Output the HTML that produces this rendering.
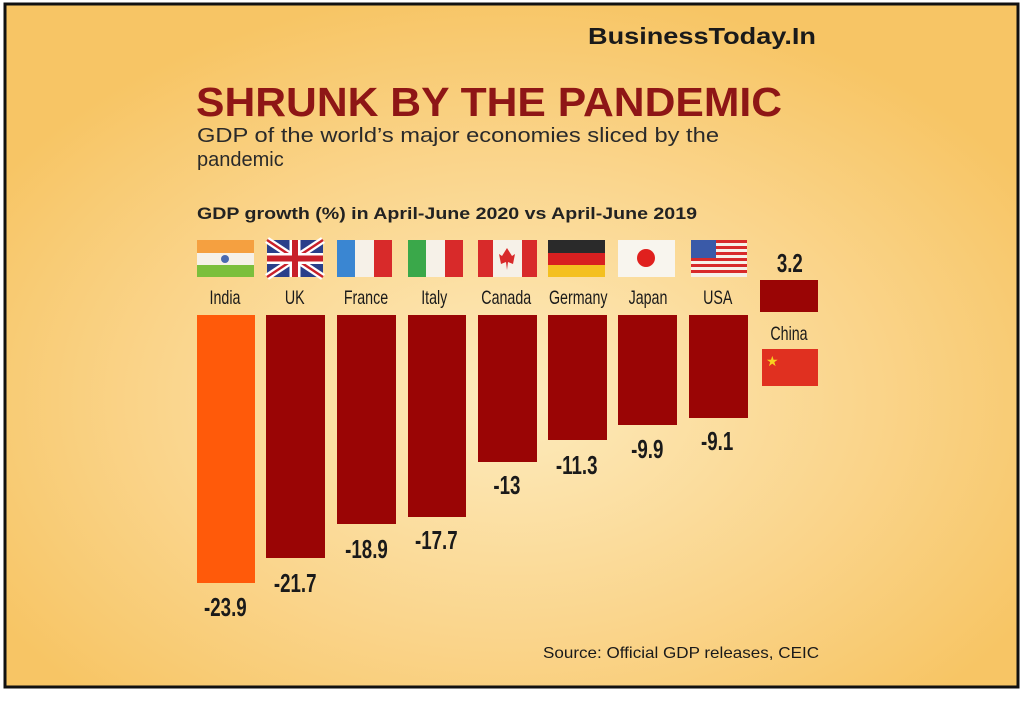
<!DOCTYPE html>
<html><head><meta charset="utf-8"><style>
html,body{margin:0;padding:0;background:#fff;}
</style></head><body>
<svg width="1024" height="698" viewBox="0 0 1024 698" xmlns="http://www.w3.org/2000/svg" font-family="Liberation Sans, sans-serif">
<defs>
<radialGradient id="bg" cx="0.5" cy="0.58" r="0.6">
<stop offset="0" stop-color="#fdebbd"/>
<stop offset="0.6" stop-color="#fad48a"/>
<stop offset="1" stop-color="#f7c565"/>
</radialGradient>
</defs>
<rect x="0" y="0" width="1024" height="698" fill="#fff"/>
<rect x="5" y="4" width="1013" height="683" fill="url(#bg)" stroke="#111" stroke-width="3"/>
<text x="588" y="44" font-size="23" font-weight="bold" fill="#1a1a1a" textLength="228" lengthAdjust="spacingAndGlyphs">BusinessToday.In</text>
<text x="196" y="116" font-size="41" font-weight="bold" fill="#8e1616" textLength="586" lengthAdjust="spacingAndGlyphs">SHRUNK BY THE PANDEMIC</text>
<text x="197" y="142" font-size="20" fill="#2a2a2a" textLength="522" lengthAdjust="spacingAndGlyphs">GDP of the world’s major economies sliced by the</text>
<text x="197" y="166" font-size="20" fill="#2a2a2a">pandemic</text>
<text x="197" y="219" font-size="17" font-weight="bold" fill="#222" textLength="500" lengthAdjust="spacingAndGlyphs">GDP growth (%) in April-June 2020 vs April-June 2019</text>
<!-- flags -->
<g>
<rect x="197" y="240" width="57" height="13" fill="#f5a040"/><rect x="197" y="253" width="57" height="12" fill="#f6f1e8"/><rect x="197" y="265" width="57" height="12" fill="#7bbf3c"/><circle cx="225" cy="259" r="4" fill="#4a6ab0"/>
<rect x="267" y="240" width="56" height="37" fill="#2a3f8a"/>
<path d="M267 240 L323 277 M323 240 L267 277" stroke="#fff" stroke-width="7"/>
<path d="M267 240 L323 277 M323 240 L267 277" stroke="#c8202a" stroke-width="2.5"/>
<path d="M295 240 V277 M267 258.5 H323" stroke="#fff" stroke-width="11"/>
<path d="M295 240 V277 M267 258.5 H323" stroke="#c8202a" stroke-width="6"/>
<rect x="337" y="240" width="18" height="37" fill="#3a86d2"/><rect x="355" y="240" width="19" height="37" fill="#f6f1e8"/><rect x="374" y="240" width="18" height="37" fill="#d82a2a"/>
<rect x="408" y="240" width="18" height="37" fill="#3aa84a"/><rect x="426" y="240" width="19" height="37" fill="#f6f1e8"/><rect x="445" y="240" width="18" height="37" fill="#d82a2a"/>
<rect x="478" y="240" width="15" height="37" fill="#d82a2a"/><rect x="493" y="240" width="29" height="37" fill="#f6f1e8"/><rect x="522" y="240" width="15" height="37" fill="#d82a2a"/><path d="M507 248 L512 256 L515 254 L513 264 L508 262 L507 270 L506 262 L501 264 L499 254 L502 256 Z" fill="#d82a2a"/>
<rect x="548" y="240" width="57" height="13" fill="#2a2a2a"/><rect x="548" y="253" width="57" height="12" fill="#d82020"/><rect x="548" y="265" width="57" height="12" fill="#f4c020"/>
<rect x="618" y="240" width="57" height="37" fill="#f8f5ee"/><circle cx="646" cy="258" r="9" fill="#e0201e"/>
<rect x="691" y="240" width="56" height="37" fill="#f6f1e8"/>
<g fill="#d82a2a"><rect x="691" y="240" width="56" height="3"/><rect x="691" y="246" width="56" height="3"/><rect x="691" y="252" width="56" height="3"/><rect x="691" y="258" width="56" height="3"/><rect x="691" y="264" width="56" height="3"/><rect x="691" y="270" width="56" height="3"/></g>
<rect x="691" y="240" width="25" height="18" fill="#3a5aa8"/>
<rect x="762" y="349" width="56" height="37" fill="#e03020"/><text x="766" y="366" font-size="14" fill="#f8d020">★</text>
</g>
<!-- country labels -->
<g font-size="19" fill="#1a1a1a" text-anchor="middle" transform="scale(0.75 1)">
<text x="300" y="304">India</text><text x="393" y="304">UK</text><text x="488" y="304">France</text><text x="579" y="304">Italy</text><text x="675" y="304">Canada</text><text x="771" y="304">Germany</text><text x="864" y="304">Japan</text><text x="957" y="304">USA</text><text x="1052" y="340">China</text>
</g>
<!-- bars -->
<rect x="197" y="315" width="58" height="268" fill="#ff5a0a"/>
<g fill="#9a0505">
<rect x="266" y="315" width="59" height="243"/>
<rect x="337" y="315" width="59" height="209"/>
<rect x="408" y="315" width="58" height="202"/>
<rect x="478" y="315" width="59" height="147"/>
<rect x="548" y="315" width="59" height="125"/>
<rect x="618" y="315" width="59" height="110"/>
<rect x="689" y="315" width="59" height="103"/>
<rect x="760" y="280" width="58" height="32"/>
</g>
<g font-size="26" font-weight="bold" fill="#1a1a1a" text-anchor="middle" transform="scale(0.72 1)">
<text x="313" y="616">-23.9</text><text x="410" y="592">-21.7</text><text x="509" y="558">-18.9</text><text x="606" y="549">-17.7</text><text x="704" y="494">-13</text><text x="801" y="474">-11.3</text><text x="899" y="458">-9.9</text><text x="996" y="450">-9.1</text><text x="1097" y="272">3.2</text>
</g>
<text x="543" y="658" font-size="16" fill="#1a1a1a" textLength="276" lengthAdjust="spacingAndGlyphs">Source: Official GDP releases, CEIC</text>
</svg>
</body></html>
